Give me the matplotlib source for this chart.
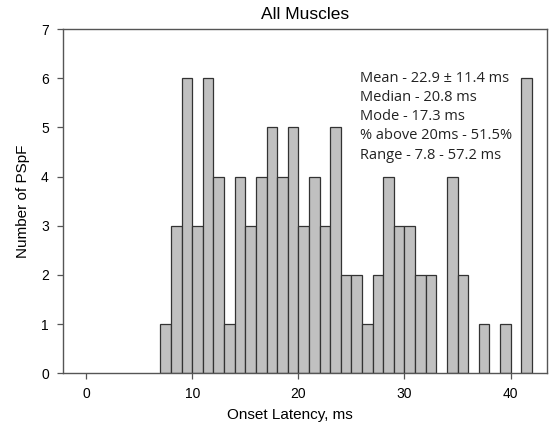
import matplotlib
matplotlib.use('Agg')
import matplotlib.pyplot as plt

# onset latency histogram, 1 ms bins (last bin holds everything >= 41 ms)
bin_starts = [7, 8, 9, 10, 11, 12, 13, 14, 15, 16, 17, 18, 19, 20, 21, 22, 23, 24,
              25, 26, 27, 28, 29, 30, 31, 32, 33, 34, 35, 36, 37, 38, 39, 40, 41]
counts = [1, 3, 6, 3, 6, 4, 1, 4, 3, 4, 5, 4, 5, 3, 4, 3, 5, 2,
          2, 1, 2, 4, 3, 3, 2, 2, 0, 4, 2, 0, 1, 0, 1, 0, 6]
stats_lines = ['Mean - 22.9 \u00b1 11.4 ms',
               'Median - 20.8 ms',
               'Mode - 17.3 ms',
               '% above 20ms - 51.5%',
               'Range - 7.8 - 57.2 ms']

plt.rcParams['font.family'] = ['Liberation Sans', 'DejaVu Sans']

fig = plt.figure(figsize=(5.56, 4.33), dpi=100)
ax = fig.add_axes([0.1128, 0.1379, 0.8705, 0.7947])

xs = [x for x, c in zip(bin_starts, counts) if c > 0]
hs = [c for c in counts if c > 0]
ax.bar(xs, hs, width=1, align='edge', color='#c0c0c0', edgecolor='#333333', linewidth=0.9)

ax.set_xlim(-2.2, 43.4)
ax.set_ylim(0, 7)
ax.set_xticks([0, 10, 20, 30, 40])
ax.set_yticks(range(0, 8))
ax.tick_params(direction='out', length=4, width=0.9, color='#555555', labelsize=10, pad=6)
for sp in ax.spines.values():
    sp.set_color('#555555')
    sp.set_linewidth(1.0)

ax.set_title('All Muscles', fontsize=12.5, pad=7)
ax.set_xlabel('Onset Latency, ms', fontsize=11)
ax.xaxis.set_label_coords(0.47, -0.10)
ax.set_ylabel('Number of PSpF', fontsize=11, labelpad=8)

ax.text(0.614, 0.879, '\n'.join(stats_lines), transform=ax.transAxes,
        fontsize=10.5, family=['Open Sans', 'DejaVu Sans'], va='top', ha='left',
        linespacing=1.38, color='#222222')

fig.savefig('out.png', dpi=100)
